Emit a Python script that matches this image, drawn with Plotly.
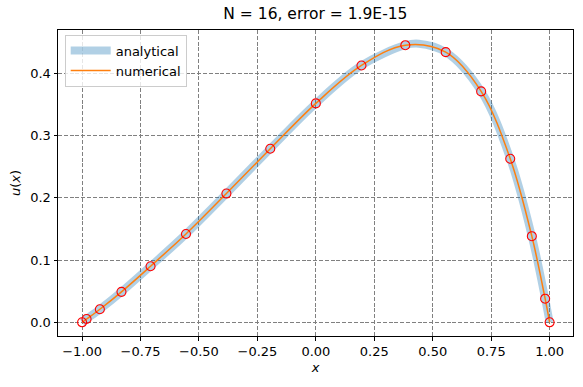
import plotly.graph_objects as go

# Chebyshev nodes and values
x_num = [-1.0, -0.9808, -0.9239, -0.8315, -0.7071, -0.5556, -0.3827, -0.1951, 0.0,
         0.1951, 0.3827, 0.5556, 0.7071, 0.8315, 0.9239, 0.9808, 1.0]
u_num = [0.0, 0.0053, 0.021, 0.049, 0.0902, 0.142, 0.207, 0.279, 0.352,
         0.413, 0.4456, 0.4344, 0.3713, 0.263, 0.1385, 0.038, 0.0]

# analytical curve samples (includes the peak)
x_ana = [-1.0, -0.9808, -0.9239, -0.8315, -0.7071, -0.5556, -0.3827, -0.1951, 0.0,
         0.1951, 0.3827, 0.44, 0.5556, 0.7071, 0.8315, 0.9239, 0.9808, 1.0]
u_ana = [0.0, 0.0053, 0.021, 0.049, 0.0902, 0.142, 0.207, 0.279, 0.352,
         0.413, 0.4456, 0.448, 0.4344, 0.3713, 0.263, 0.1385, 0.038, 0.0]

title = "N = 16, error = 1.9E-15"
x_ticks = [-1.0, -0.75, -0.5, -0.25, 0.0, 0.25, 0.5, 0.75, 1.0]
x_tick_text = ["\u22121.00", "\u22120.75", "\u22120.50", "\u22120.25", "0.00", "0.25", "0.50", "0.75", "1.00"]
y_ticks = [0.0, 0.1, 0.2, 0.3, 0.4]
y_tick_text = ["0.0", "0.1", "0.2", "0.3", "0.4"]

FONT = "DejaVu Sans"

fig = go.Figure()
fig.add_trace(go.Scatter(x=x_ana, y=u_ana, mode="lines", name="analytical",
                         line=dict(color="rgba(31,119,180,0.35)", width=8, shape="spline", smoothing=1.0)))
fig.add_trace(go.Scatter(x=x_num, y=u_num, mode="lines", name="numerical",
                         line=dict(color="#ff7f0e", width=1.5, shape="spline", smoothing=1.0)))
fig.add_trace(go.Scatter(x=x_num, y=u_num, mode="markers", showlegend=False,
                         marker=dict(symbol="circle-open", size=9, color="red", line=dict(width=1.1, color="red"))))

axis_common = dict(showline=True, linecolor="black", linewidth=1, mirror=True,
                   ticks="outside", ticklen=3.5, tickwidth=0.8, tickcolor="black",
                   showgrid=True, gridcolor="#808080", gridwidth=0.8, griddash="4px,1.8px",
                   zeroline=False, automargin=False,
                   tickfont=dict(family=FONT, size=13, color="black"))

fig.update_layout(
    width=583, height=387,
    margin=dict(l=58, r=10, t=30, b=51),
    paper_bgcolor="white", plot_bgcolor="white",
    title=dict(text=title, x=0.541, xanchor="center", y=0.966, yanchor="middle",
               font=dict(family=FONT, size=15.5, color="black")),
    xaxis=dict(range=[-1.103, 1.100], tickvals=x_ticks, ticktext=x_tick_text,
               title=dict(text="<i>x</i>", font=dict(family=FONT, size=13, color="black"), standoff=4),
               **axis_common),
    yaxis=dict(range=[-0.022, 0.470], tickvals=y_ticks, ticktext=y_tick_text,
               title=dict(text="<i>u</i>(<i>x</i>)", font=dict(family=FONT, size=13, color="black"), standoff=6),
               **axis_common),
    legend=dict(x=0.013, y=0.985, xanchor="left", yanchor="top",
                bgcolor="rgba(255,255,255,0.8)", bordercolor="#cccccc", borderwidth=1,
                font=dict(family=FONT, size=13, color="black"),
                tracegroupgap=0, itemwidth=40),
    showlegend=True,
)

fig.write_html("out.html", config={"displayModeBar": False},
               post_script="document.body.style.margin='0';")
